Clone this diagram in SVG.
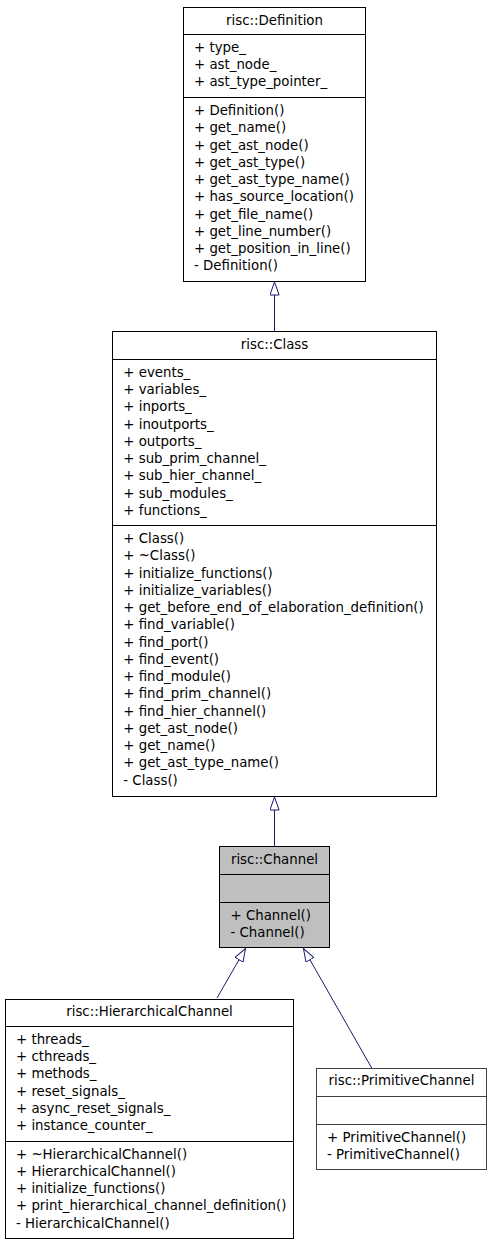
<svg xmlns="http://www.w3.org/2000/svg" width="491" height="1245" viewBox="0 0 491 1245">
<style>
.box{fill:#ffffff;stroke:#000000;stroke-width:1}
.gray{fill:#bfbfbf}
.nolink{stroke:#404040}
.sep{stroke:#000000;stroke-width:1}
.nolink-sep{stroke:#404040;stroke-width:1}
text{font-family:"DejaVu Sans","Liberation Sans",sans-serif;font-size:13.33px;fill:#000000}
.t{text-anchor:middle}
.edge{fill:none;stroke:#191970;stroke-width:1}
</style>
<defs>
<marker id="inh" viewBox="0 0 14 10" refX="13.5" refY="5" markerWidth="14" markerHeight="10" markerUnits="userSpaceOnUse" orient="auto">
<path d="M0.5,0.4 L13.5,5 L0.5,9.6 Z" fill="#ffffff" stroke="#191970" stroke-width="1"/>
</marker>
</defs>
<rect width="491" height="1245" fill="#ffffff"/>
<g id="connectors">
<path class="edge" d="M274.5,331 L274.5,282" marker-end="url(#inh)"/>
<path class="edge" d="M274.5,846 L274.5,797" marker-end="url(#inh)"/>
<path class="edge" d="M217,998 L245.5,948.5" marker-end="url(#inh)"/>
<path class="edge" d="M371.7,1068 L303.5,948.5" marker-end="url(#inh)"/>
</g>
<g id="node-definition">
<rect class="box" x="183.5" y="7.5" width="182" height="274"/>
<line class="sep" x1="183.5" y1="34.5" x2="365.5" y2="34.5"/>
<line class="sep" x1="183.5" y1="97.5" x2="365.5" y2="97.5"/>
<text class="t" x="274.5" y="25">risc::Definition</text>
<text x="194" y="51.8">+ type_</text>
<text x="194" y="69.05">+ ast_node_</text>
<text x="194" y="86.3">+ ast_type_pointer_</text>
<text x="194" y="115.2">+ Definition()</text>
<text x="194" y="132.45">+ get_name()</text>
<text x="194" y="149.7">+ get_ast_node()</text>
<text x="194" y="166.95">+ get_ast_type()</text>
<text x="194" y="184.2">+ get_ast_type_name()</text>
<text x="194" y="201.45">+ has_source_location()</text>
<text x="194" y="218.7">+ get_file_name()</text>
<text x="194" y="235.95">+ get_line_number()</text>
<text x="194" y="253.2">+ get_position_in_line()</text>
<text x="194" y="270.45">- Definition()</text>
</g>
<g id="node-class">
<rect class="box" x="112.5" y="331.5" width="324" height="465"/>
<line class="sep" x1="112.5" y1="359.5" x2="436.5" y2="359.5"/>
<line class="sep" x1="112.5" y1="525.5" x2="436.5" y2="525.5"/>
<text class="t" x="274.5" y="348.8">risc::Class</text>
<text x="123.3" y="376.8">+ events_</text>
<text x="123.3" y="394.05">+ variables_</text>
<text x="123.3" y="411.3">+ inports_</text>
<text x="123.3" y="428.55">+ inoutports_</text>
<text x="123.3" y="445.8">+ outports_</text>
<text x="123.3" y="463.05">+ sub_prim_channel_</text>
<text x="123.3" y="480.3">+ sub_hier_channel_</text>
<text x="123.3" y="497.55">+ sub_modules_</text>
<text x="123.3" y="514.8">+ functions_</text>
<text x="123.3" y="543.2">+ Class()</text>
<text x="123.3" y="560.45">+ ~Class()</text>
<text x="123.3" y="577.7">+ initialize_functions()</text>
<text x="123.3" y="594.95">+ initialize_variables()</text>
<text x="123.3" y="612.2">+ get_before_end_of_elaboration_definition()</text>
<text x="123.3" y="629.45">+ find_variable()</text>
<text x="123.3" y="646.7">+ find_port()</text>
<text x="123.3" y="663.95">+ find_event()</text>
<text x="123.3" y="681.2">+ find_module()</text>
<text x="123.3" y="698.45">+ find_prim_channel()</text>
<text x="123.3" y="715.7">+ find_hier_channel()</text>
<text x="123.3" y="732.95">+ get_ast_node()</text>
<text x="123.3" y="750.2">+ get_name()</text>
<text x="123.3" y="767.45">+ get_ast_type_name()</text>
<text x="123.3" y="784.7">- Class()</text>
</g>
<g id="node-channel">
<rect class="box gray" x="219.5" y="846.5" width="110" height="101"/>
<line class="sep" x1="219.5" y1="874.5" x2="329.5" y2="874.5"/>
<line class="sep" x1="219.5" y1="902.5" x2="329.5" y2="902.5"/>
<text class="t" x="274.5" y="864">risc::Channel</text>
<text x="230.5" y="919.8">+ Channel()</text>
<text x="230.5" y="937.05">- Channel()</text>
</g>
<g id="node-hierarchicalchannel">
<rect class="box" x="5.5" y="999.5" width="288" height="239"/>
<line class="sep" x1="5.5" y1="1026.5" x2="293.5" y2="1026.5"/>
<line class="sep" x1="5.5" y1="1141.5" x2="293.5" y2="1141.5"/>
<text class="t" x="149.5" y="1016.3">risc::HierarchicalChannel</text>
<text x="16" y="1043.8">+ threads_</text>
<text x="16" y="1061.05">+ cthreads_</text>
<text x="16" y="1078.3">+ methods_</text>
<text x="16" y="1095.55">+ reset_signals_</text>
<text x="16" y="1112.8">+ async_reset_signals_</text>
<text x="16" y="1130.05">+ instance_counter_</text>
<text x="16" y="1158.5">+ ~HierarchicalChannel()</text>
<text x="16" y="1175.75">+ HierarchicalChannel()</text>
<text x="16" y="1193">+ initialize_functions()</text>
<text x="16" y="1210.25">+ print_hierarchical_channel_definition()</text>
<text x="16" y="1227.5">- HierarchicalChannel()</text>
</g>
<g id="node-primitivechannel">
<rect class="box nolink" x="316.5" y="1068.5" width="170" height="101"/>
<line class="nolink-sep" x1="316.5" y1="1096.5" x2="486.5" y2="1096.5"/>
<line class="nolink-sep" x1="316.5" y1="1124.5" x2="486.5" y2="1124.5"/>
<text class="t" x="401.5" y="1085.3">risc::PrimitiveChannel</text>
<text x="327" y="1141.5">+ PrimitiveChannel()</text>
<text x="327" y="1158.75">- PrimitiveChannel()</text>
</g>
</svg>
